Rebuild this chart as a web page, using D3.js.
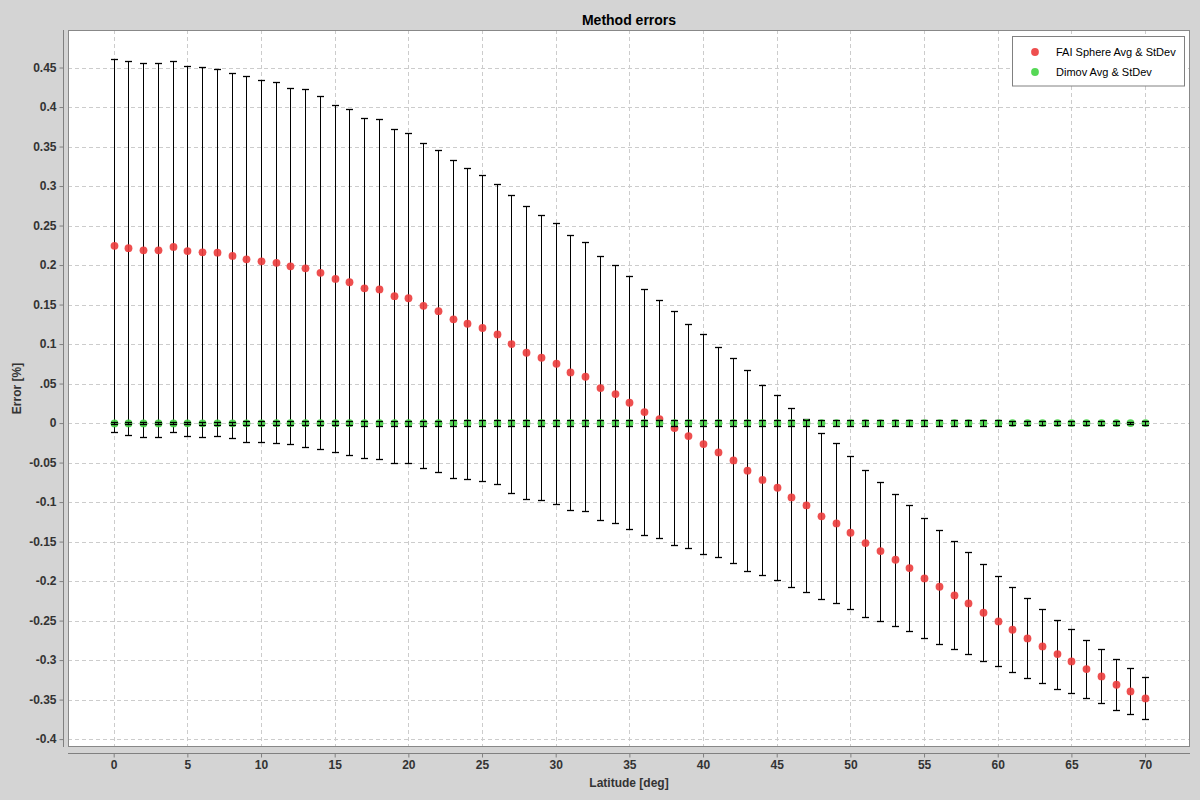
<!DOCTYPE html>
<html><head><meta charset="utf-8">
<script src="https://cdn.jsdelivr.net/npm/d3@7"></script>
<style>
html,body{margin:0;padding:0;background:#d4d4d4;}
svg{display:block;font-family:"Liberation Sans",Arial,sans-serif;}
</style></head>
<body>
<svg id="chart" width="1200" height="800"></svg>
<script>
const latitudes = d3.range(0, 71);
const faiAvg = [
 0.2243, 0.2213, 0.2186, 0.2186, 0.2230, 0.2177, 0.2161, 0.2156, 0.2116, 0.2072,
 0.2047, 0.2028, 0.1984, 0.1958, 0.1901, 0.1825, 0.1782, 0.1705, 0.1692, 0.1606,
 0.1580, 0.1484, 0.1416, 0.1313, 0.1257, 0.1203, 0.1122, 0.1000, 0.0890, 0.0827,
 0.0751, 0.0641, 0.0586, 0.0443, 0.0367, 0.0257, 0.0139, 0.0051, -0.0063, -0.0165,
 -0.0266, -0.0371, -0.0473, -0.0603, -0.0720, -0.0819, -0.0941, -0.1042, -0.1181, -0.1270,
 -0.1388, -0.1519, -0.1620, -0.1730, -0.1835, -0.1966, -0.2072, -0.2181, -0.2283, -0.2401,
 -0.2510, -0.2616, -0.2726, -0.2827, -0.2924, -0.3017, -0.3114, -0.3207, -0.3312, -0.3397,
 -0.3485];
const faiStd = [
 0.2361, 0.2365, 0.2367, 0.2367, 0.2348, 0.2342, 0.2342, 0.2321, 0.2310, 0.2316,
 0.2291, 0.2285, 0.2253, 0.2266, 0.2234, 0.2196, 0.2188, 0.2152, 0.2152, 0.2112,
 0.2087, 0.2057, 0.2036, 0.2013, 0.1967, 0.1932, 0.1899, 0.1882, 0.1853, 0.1802,
 0.1777, 0.1735, 0.1701, 0.1667, 0.1629, 0.1600, 0.1553, 0.1502, 0.1477, 0.1414,
 0.1389, 0.1329, 0.1292, 0.1270, 0.1197, 0.1170, 0.1133, 0.1091, 0.1051, 0.1013,
 0.0968, 0.0930, 0.0880, 0.0835, 0.0797, 0.0759, 0.0722, 0.0684, 0.0646, 0.0614,
 0.0570, 0.0538, 0.0506, 0.0468, 0.0437, 0.0405, 0.0367, 0.0342, 0.0323, 0.0291,
 0.0266];
const dimovAvg = [
 -0.0004, -0.0004, -0.0004, -0.0004, -0.0004, -0.0003, -0.0003, -0.0003, -0.0003, -0.0003,
 -0.0003, -0.0002, -0.0002, -0.0002, -0.0002, -0.0002, -0.0002, -0.0002, -0.0001, -0.0001,
 -0.0001, -0.0001, -0.0001, -0.0001, -0.0001, 0.0000, 0.0000, 0.0000, 0.0000, 0.0000,
 0.0000, 0.0000, 0.0000, 0.0000, 0.0000, 0.0000, 0.0000, 0.0000, 0.0000, 0.0000,
 0.0000, 0.0000, 0.0000, 0.0000, 0.0000, 0.0000, 0.0000, 0.0001, 0.0000, 0.0000,
 0.0000, 0.0000, 0.0000, 0.0000, 0.0000, 0.0000, 0.0000, 0.0000, 0.0000, 0.0000,
 0.0000, 0.0000, 0.0000, 0.0000, 0.0000, 0.0000, 0.0000, 0.0000, 0.0000, 0.0000,
 0.0000];
const dimovStd = [
 0.0012, 0.0012, 0.0012, 0.0012, 0.0012, 0.0013, 0.0020, 0.0021, 0.0022, 0.0023,
 0.0024, 0.0025, 0.0026, 0.0026, 0.0027, 0.0028, 0.0028, 0.0030, 0.0030, 0.0031,
 0.0032, 0.0033, 0.0033, 0.0034, 0.0034, 0.0035, 0.0035, 0.0036, 0.0036, 0.0037,
 0.0037, 0.0037, 0.0038, 0.0038, 0.0038, 0.0039, 0.0040, 0.0040, 0.0041, 0.0041,
 0.0041, 0.0042, 0.0042, 0.0042, 0.0043, 0.0043, 0.0043, 0.0043, 0.0042, 0.0038,
 0.0038, 0.0037, 0.0037, 0.0036, 0.0036, 0.0035, 0.0035, 0.0034, 0.0034, 0.0033,
 0.0033, 0.0030, 0.0030, 0.0029, 0.0029, 0.0028, 0.0027, 0.0027, 0.0026, 0.0018,
 0.0020];
const yTickValues = [0.45,0.4,0.35,0.3,0.25,0.2,0.15,0.1,0.05,0,-0.05,-0.1,-0.15,-0.2,-0.25,-0.3,-0.35,-0.4];
const yTickLabels = ["0.45","0.4","0.35","0.3","0.25","0.2","0.15","0.1",".05","0","-0.05","-0.1","-0.15","-0.2","-0.25","-0.3","-0.35","-0.4"];
const xTickValues = [0,5,10,15,20,25,30,35,40,45,50,55,60,65,70];
const seriesNames = ["FAI Sphere Avg & StDev", "Dimov Avg & StDev"];
const seriesColors = ["#ec3c3c", "#44d444"];

const svg = d3.select("#chart");
const plot = {left: 68, top: 30, right: 1190, bottom: 747};
const x = d3.scaleLinear().domain([-3.1, 73.05]).range([plot.left, plot.right]);
const y = d3.scaleLinear().domain([-0.41, 0.4975]).range([plot.bottom, plot.top]);
const px = v => Math.round(x(v)) + 0.5;
const py = v => Math.round(y(v)) + 0.5;

svg.append("rect").attr("width",1200).attr("height",800).attr("fill","#d4d4d4");
svg.append("rect").attr("x",plot.left).attr("y",plot.top)
  .attr("width",plot.right-plot.left).attr("height",plot.bottom-plot.top).attr("fill","#ffffff");

// grid
const grid = svg.append("g");
grid.selectAll("line.h").data(yTickValues).enter().append("line")
  .attr("x1",plot.left).attr("x2",plot.right)
  .attr("y1",d=>py(d)).attr("y2",d=>py(d))
  .attr("stroke","#cccccc").attr("stroke-dasharray","4,3");
grid.selectAll("line.v").data(xTickValues).enter().append("line")
  .attr("y1",plot.top).attr("y2",plot.bottom)
  .attr("x1",d=>px(d)).attr("x2",d=>px(d))
  .attr("stroke","#cccccc").attr("stroke-dasharray","4,3");

// axes
const yAxis = d3.axisLeft(y).tickValues(yTickValues)
  .tickFormat((d,i)=>yTickLabels[i]).tickSize(4).tickPadding(3);
const gy = svg.append("g").attr("transform",`translate(${plot.left-4.5},0)`).call(yAxis);
const xAxis = d3.axisBottom(x).tickValues(xTickValues).tickFormat(d3.format("d")).tickSize(4).tickPadding(3);
const gx = svg.append("g").attr("transform",`translate(0,${plot.bottom+6.5})`).call(xAxis);
[gy,gx].forEach(g=>{
  g.select(".domain").attr("stroke","#808080");
  g.selectAll(".tick line").attr("stroke","#808080");
  g.selectAll(".tick text").attr("fill","#333").attr("font-size",12).attr("font-weight","bold")
   .attr("font-family","'Liberation Sans',Arial,sans-serif");
});
gy.select(".domain").attr("d",`M0,${plot.top}V${plot.bottom}`);
gx.select(".domain").attr("d",`M${plot.left},0H${plot.right}`);

// plot border
svg.append("rect").attr("x",plot.left+0.5).attr("y",plot.top+0.5)
  .attr("width",plot.right-plot.left-1).attr("height",plot.bottom-plot.top-1)
  .attr("fill","none").attr("stroke","#888888");

function errorBars(avg, std, g, cap) {
  const d = latitudes.map((lat,i)=>({lat, lo: avg[i]-std[i], hi: avg[i]+std[i]}));
  g.selectAll("line.v").data(d).enter().append("line")
    .attr("x1",e=>px(e.lat)).attr("x2",e=>px(e.lat))
    .attr("y1",e=>py(e.lo)).attr("y2",e=>py(e.hi)).attr("stroke","#000").attr("stroke-width",1);
  g.selectAll("line.t").data(d).enter().append("line")
    .attr("x1",e=>px(e.lat)-cap).attr("x2",e=>px(e.lat)+cap)
    .attr("y1",e=>py(e.hi)).attr("y2",e=>py(e.hi)).attr("stroke","#000").attr("stroke-width",1.3);
  g.selectAll("line.b").data(d).enter().append("line")
    .attr("x1",e=>px(e.lat)-cap).attr("x2",e=>px(e.lat)+cap)
    .attr("y1",e=>py(e.lo)).attr("y2",e=>py(e.lo)).attr("stroke","#000").attr("stroke-width",1.3);
}
function dots(avg, color, g, r) {
  g.selectAll("circle").data(latitudes).enter().append("circle")
    .attr("cx",d=>px(d)).attr("cy",(d,i)=>y(avg[i])).attr("r",r)
    .attr("fill",color).attr("fill-opacity",0.9);
}
errorBars(faiAvg, faiStd, svg.append("g"), 3.5);
dots(faiAvg, seriesColors[0], svg.append("g"), 3.9);
dots(dimovAvg, seriesColors[1], svg.append("g"), 3.9);
errorBars(dimovAvg, dimovStd, svg.append("g"), 3.5);

svg.append("text").attr("x",629).attr("y",25).attr("text-anchor","middle")
  .attr("font-size",14).attr("font-weight","bold").attr("fill","#000").text("Method errors");
svg.append("text").attr("x",629).attr("y",787).attr("text-anchor","middle")
  .attr("font-size",12).attr("font-weight","bold").attr("fill","#333").text("Latitude [deg]");
svg.append("text").attr("transform","translate(21,388.5) rotate(-90)").attr("text-anchor","middle")
  .attr("font-size",12).attr("font-weight","bold").attr("fill","#333").text("Error [%]");

const lg = svg.append("g");
lg.append("rect").attr("x",1012.5).attr("y",36.5).attr("width",172).attr("height",49.5)
  .attr("fill","#fff").attr("stroke","#808080");
seriesNames.forEach((name,i)=>{
  lg.append("circle").attr("cx",1035).attr("cy",52+i*20).attr("r",3.9).attr("fill",seriesColors[i]).attr("fill-opacity",0.9);
  lg.append("text").attr("x",1056).attr("y",56+i*20).attr("font-size",11).attr("fill","#000").text(name);
});
</script>
</body></html>
